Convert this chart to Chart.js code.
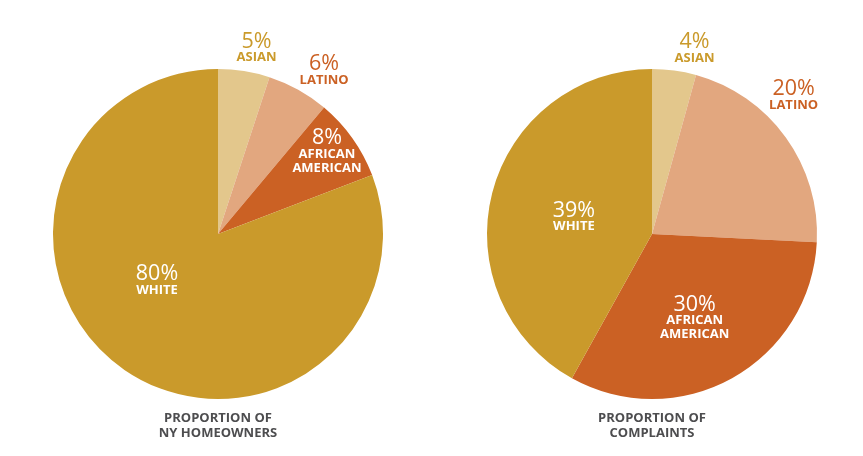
<!DOCTYPE html>
<html>
<head>
<meta charset="utf-8">
<script src="https://cdn.jsdelivr.net/npm/chart.js@4/dist/chart.umd.min.js"></script>
<style>
  html, body { margin: 0; padding: 0; background: #ffffff; }
  body { width: 863px; height: 456px; position: relative; overflow: hidden; }
  .wrap { position: absolute; top: 0; height: 456px; }
  #w1 { left: 0; width: 436px; }
  #w2 { left: 437px; width: 430px; }
</style>
</head>
<body>
<div class="wrap" id="w1"><canvas id="c1"></canvas></div>
<div class="wrap" id="w2"><canvas id="c2"></canvas></div>
<script>
// ---- data ----
const categories = ["ASIAN", "LATINO", "AFRICAN AMERICAN", "WHITE"];
const homeownerValues = [5, 6, 8, 80];
const complaintValues = [4, 20, 30, 39];
const homeownerTitle = ["PROPORTION OF", "NY HOMEOWNERS"];
const complaintTitle = ["PROPORTION OF", "COMPLAINTS"];

// ---- styles ----
const sliceColors = ["#E3C78C", "#E2A77F", "#CB6124", "#CA9A2B"];
const FONT = "'Open Sans', 'Liberation Sans', sans-serif";

// label placement: polar (degrees clockwise from top, radius factor), text colour
const homeownerLabelPos = [
  { a: 11.7, r: 1.153, color: "#CA9A2B" },
  { a: 32.9, r: 1.184, color: "#CB6124" },
  { a: 50.5, r: 0.856, color: "#ffffff" },
  { a: 233,  r: 0.463, color: "#ffffff" }
];
const complaintLabelPos = [
  { a: 12.9,  r: 1.155, color: "#CA9A2B" },
  { a: 45.5,  r: 1.203, color: "#CB6124" },
  { a: 150.9, r: 0.532, color: "#ffffff" },
  { a: 282.5, r: 0.485, color: "#ffffff" }
];

function splitCat(c) {
  return c === "AFRICAN AMERICAN" ? ["AFRICAN", "AMERICAN"] : [c];
}

const labelPlugin = {
  id: "pieLabels",
  afterDatasetsDraw(chart, args, opts) {
    const ctx = chart.ctx;
    const meta = chart.getDatasetMeta(0);
    const data = chart.data.datasets[0].data;
    const arc0 = meta.data[0];
    const cx = arc0.x, cy = arc0.y, R = arc0.outerRadius;
    ctx.save();
    ctx.textAlign = "center";
    ctx.textBaseline = "alphabetic";
    data.forEach((v, i) => {
      const p = opts.positions[i];
      const ang = p.a * Math.PI / 180;
      const x = cx + Math.sin(ang) * R * p.r;
      const y = cy - Math.cos(ang) * R * p.r;
      ctx.fillStyle = p.color;
      ctx.font = "400 21.5px " + FONT;
      ctx.fillText(v + "%", x, y);
      ctx.font = "700 13px " + FONT;
      const lines = splitCat(chart.data.labels[i]);
      lines.forEach((ln, k) => {
        ctx.fillText(ln, x, y + 13.7 + k * 13.8);
      });
    });
    // title under pie
    ctx.fillStyle = "#4D4D4F";
    ctx.font = "700 13px " + FONT;
    opts.title.forEach((t, k) => {
      ctx.fillText(t, cx, cy + R + 22.7 + k * 15.6);
    });
    ctx.restore();
  }
};

function makePie(id, values, positions, title) {
  return new Chart(document.getElementById(id), {
    type: "pie",
    data: {
      labels: categories,
      datasets: [{
        data: values,
        backgroundColor: sliceColors,
        borderWidth: 0,
        hoverOffset: 0
      }]
    },
    options: {
      responsive: true,
      maintainAspectRatio: false,
      animation: false,
      layout: { padding: { top: 69, bottom: 57, left: 0, right: 0 } },
      plugins: {
        legend: { display: false },
        tooltip: { enabled: false },
        pieLabels: { positions: positions, title: title }
      }
    },
    plugins: [labelPlugin]
  });
}

makePie("c1", homeownerValues, homeownerLabelPos, homeownerTitle);
makePie("c2", complaintValues, complaintLabelPos, complaintTitle);
</script>
</body>
</html>
